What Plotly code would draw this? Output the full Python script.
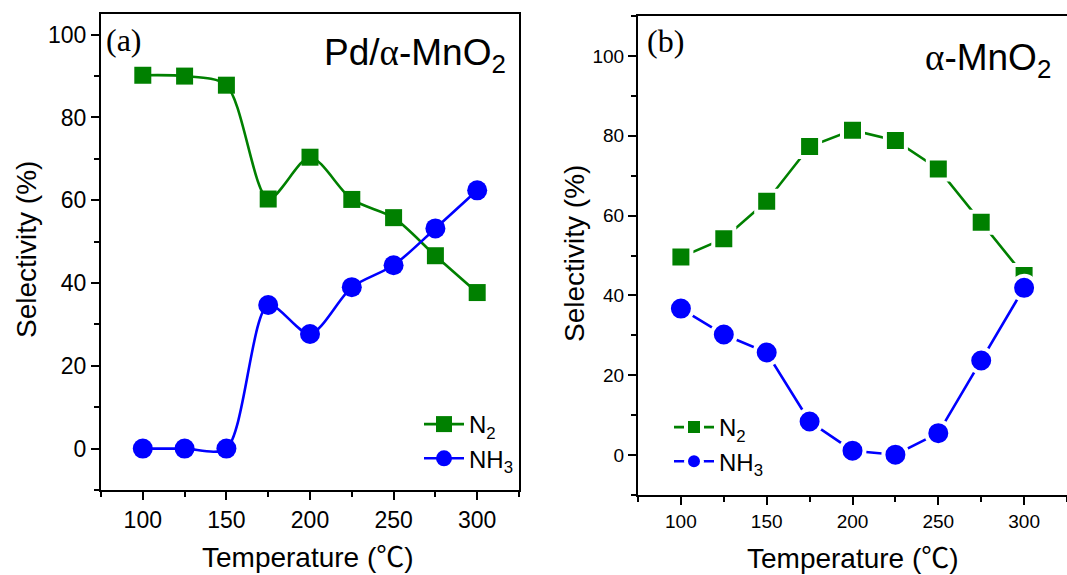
import plotly.graph_objects as go

# Reaction temperature (°C)
temperature = [100, 125, 150, 175, 200, 225, 250, 275, 300]

# Panel (a): Pd/alpha-MnO2 selectivity (%)
pd_n2 = [90.2, 90.0, 87.8, 60.3, 70.4, 60.2, 55.8, 46.6, 37.7]
pd_nh3 = [0.0, 0.0, 0.0, 34.7, 27.7, 39.0, 44.3, 53.2, 62.4]

# Panel (b): alpha-MnO2 selectivity (%)
mn_n2 = [49.6, 54.2, 63.6, 77.3, 81.4, 78.8, 71.7, 58.3, 45.0]
mn_nh3 = [36.7, 30.2, 25.7, 8.4, 1.1, 0.1, 5.5, 23.7, 41.9]

x_ticks = [100, 150, 200, 250, 300]
y_ticks = [0, 20, 40, 60, 80, 100]

GREEN = "#008000"
BLUE = "#0000FF"
FONT = "Liberation Sans, Arial, sans-serif"
SERIF = "Liberation Serif, Times New Roman, serif"

W, H = 1067, 575

fig = go.Figure()

# ---- panel (a): smoothed curves
fig.add_trace(go.Scatter(
    x=temperature, y=pd_n2, name="N<sub>2</sub>", mode="lines+markers",
    line=dict(color=GREEN, width=2.6, shape="spline", smoothing=0.8),
    marker=dict(symbol="square", size=17, color=GREEN),
    xaxis="x", yaxis="y", legend="legend"))
fig.add_trace(go.Scatter(
    x=temperature, y=pd_nh3, name="NH<sub>3</sub>", mode="lines+markers",
    line=dict(color=BLUE, width=2.6, shape="spline", smoothing=0.8),
    marker=dict(symbol="circle", size=20, color=BLUE),
    xaxis="x", yaxis="y", legend="legend"))

# ---- panel (b): straight segments with a gap around each symbol
fig.add_trace(go.Scatter(
    x=temperature, y=mn_n2, name="N<sub>2</sub>", mode="lines+markers",
    line=dict(color=GREEN, width=2.6),
    marker=dict(symbol="square", size=21, color=GREEN,
                line=dict(color="white", width=4)),
    xaxis="x2", yaxis="y2", legend="legend2"))
fig.add_trace(go.Scatter(
    x=temperature, y=mn_nh3, name="NH<sub>3</sub>", mode="lines+markers",
    line=dict(color=BLUE, width=2.6),
    marker=dict(symbol="circle", size=24, color=BLUE,
                line=dict(color="white", width=4)),
    xaxis="x2", yaxis="y2", legend="legend2"))


def x_axis(domain, anchor, size):
    return dict(
        domain=domain, anchor=anchor, range=[75, 325],
        tickvals=x_ticks, ticks="outside", ticklen=8, tickwidth=2,
        tickcolor="black", showline=True, linecolor="black", linewidth=2.2,
        mirror=True, showgrid=False, zeroline=False,
        tickfont=dict(family=FONT, size=size, color="black"),
        minor=dict(dtick=25, tick0=0, ticks="outside", ticklen=5,
                   tickwidth=2, tickcolor="black"))


def y_axis(domain, anchor, rng, size, mirror):
    return dict(
        domain=domain, anchor=anchor, range=rng,
        tickvals=y_ticks, ticks="outside", ticklen=8, tickwidth=2,
        tickcolor="black", showline=True, linecolor="black", linewidth=2.2,
        mirror=mirror, showgrid=False, zeroline=False,
        tickfont=dict(family=FONT, size=size, color="black"),
        minor=dict(dtick=10, tick0=0, ticks="outside", ticklen=5,
                   tickwidth=2, tickcolor="black"))


fig.update_layout(
    width=W, height=H, margin=dict(l=0, r=0, t=0, b=0),
    paper_bgcolor="white", plot_bgcolor="white",
    font=dict(family=FONT, color="black"),
    xaxis=x_axis([101 / W, 519 / W], "y", 23),
    yaxis=y_axis([1 - 490 / H, 1 - 14 / H], "x", [-10, 105], 23, True),
    xaxis2=x_axis([638 / W, 1.0], "y2", 19),
    yaxis2=y_axis([1 - 495 / H, 1 - 16 / H], "x2", [-10, 110], 19, False),
    legend=dict(x=419 / W, y=1 - 402 / H, xanchor="left", yanchor="top",
                bgcolor="rgba(0,0,0,0)", font=dict(family=FONT, size=24),
                tracegroupgap=0, itemwidth=40),
    legend2=dict(x=669 / W, y=1 - 405 / H, xanchor="left", yanchor="top",
                 bgcolor="rgba(0,0,0,0)", font=dict(family=FONT, size=24),
                 tracegroupgap=0, itemwidth=40),
)

alpha = '<span style="font-family:Liberation Serif">α</span>'
celsius = '<span style="font-family:Noto Sans CJK SC">℃</span>'
temp_title = f"Temperature ({celsius})"

annotations = [
    # axis titles
    dict(text="Selectivity (%)", x=27 / W, y=1 - 250 / H, textangle=-90,
         font=dict(size=28)),
    dict(text="Selectivity (%)", x=574 / W, y=1 - 254 / H, textangle=-90,
         font=dict(size=28)),
    dict(text=temp_title, x=308 / W, y=1 - 555 / H, font=dict(size=28)),
    dict(text=temp_title, x=853 / W, y=1 - 556 / H, font=dict(size=28)),
    # panel labels
    dict(text="(a)", x=104 / W, y=1 - 40 / H, xanchor="left",
         font=dict(family=SERIF, size=32)),
    dict(text="(b)", x=645 / W, y=1 - 41 / H, xanchor="left",
         font=dict(family=SERIF, size=32)),
    # sample names
    dict(text=f"Pd/{alpha}-MnO<sub>2</sub>", x=508 / W, y=1 - 55 / H,
         xanchor="right", font=dict(size=37)),
    dict(text=f"{alpha}-MnO<sub>2</sub>", x=1053 / W, y=1 - 60 / H,
         xanchor="right", font=dict(size=37)),
]
for a in annotations:
    a.setdefault("xref", "paper")
    a.setdefault("yref", "paper")
    a.setdefault("showarrow", False)
    a.setdefault("xanchor", "center")
    a.setdefault("yanchor", "middle")
    a["font"].setdefault("family", FONT)
    a["font"].setdefault("color", "black")
fig.update_layout(annotations=annotations)

fig.write_html("out.html")
